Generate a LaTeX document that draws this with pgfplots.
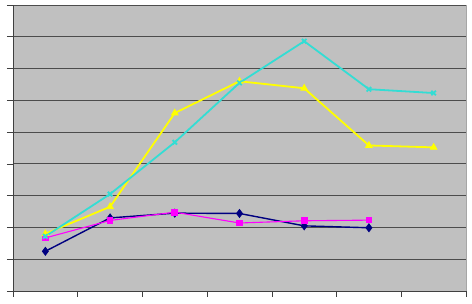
\documentclass[border=0pt]{standalone}
\usepackage{pgfplots}
\pgfplotsset{compat=1.18}
\definecolor{navyc}{RGB}{0,0,128}
\definecolor{magc}{RGB}{255,0,255}
\definecolor{yelc}{RGB}{255,255,0}
\definecolor{cyac}{RGB}{51,221,212}
\definecolor{bgc}{RGB}{192,192,192}
\begin{document}
\begin{tikzpicture}[x=1pt,y=1pt]
\path (0,0) rectangle (472,301);
\begin{axis}[
  at={(13pt,10pt)}, anchor=south west,
  scale only axis, width=453pt, height=286pt,
  xmin=0, xmax=7, ymin=0, ymax=9,
  xtick={0,...,7}, ytick={0,...,9},
  xticklabels={}, yticklabels={},
  tick align=outside,
  major tick length=6pt,
  tick style={black!75, line width=0.6pt},
  ymajorgrids, grid style={black!70, line width=0.9pt},
  axis x line*=bottom, axis y line*=left,
  axis line style={black!75, line width=0.9pt, -},
  axis background/.style={fill=bgc, draw=black!35},
  clip=false,
]
\addplot[color=navyc, line width=1.4pt, mark=diamond*, mark size=3.5pt, mark options={fill=navyc}]
  coordinates {(0.5,1.25) (1.5,2.30) (2.5,2.45) (3.5,2.44) (4.5,2.05) (5.5,1.99)};
\addplot[color=magc, line width=1.1pt, mark=square*, mark size=2.8pt, mark options={fill=magc}]
  coordinates {(0.5,1.67) (1.5,2.22) (2.5,2.48) (3.5,2.14) (4.5,2.21) (5.5,2.23)};
\addplot[color=yelc, line width=1.8pt, mark=triangle*, mark size=3.8pt, mark options={fill=yelc, line width=0.8pt}]
  coordinates {(0.5,1.80) (1.5,2.65) (2.5,5.60) (3.5,6.60) (4.5,6.38) (5.5,4.58) (6.5,4.52)};
\addplot[color=cyac, line width=1.8pt, mark=x, mark size=3.2pt]
  coordinates {(0.5,1.72) (1.5,3.05) (2.5,4.68) (3.5,6.55) (4.5,7.86) (5.5,6.35) (6.5,6.23)};
\end{axis}
\end{tikzpicture}
\end{document}
